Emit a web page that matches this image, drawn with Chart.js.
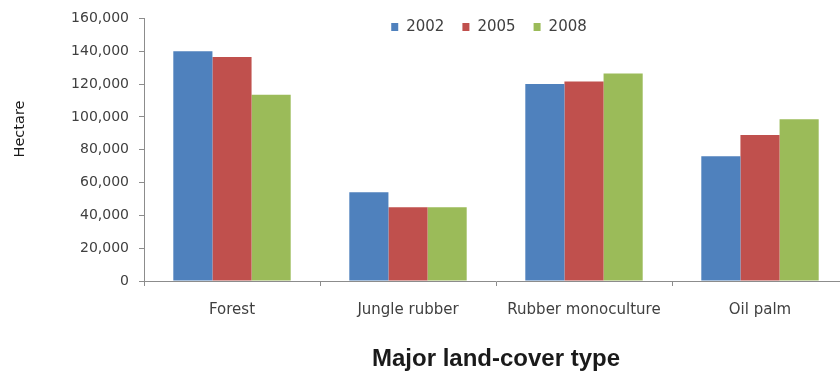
<!DOCTYPE html>
<html>
<head>
<meta charset="utf-8">
<script src="https://cdn.jsdelivr.net/npm/chart.js@4"></script>
<style>
  html, body { margin: 0; padding: 0; background: #fff; overflow: hidden; }
  #wrap { width: 860px; height: 374px; }
</style>
</head>
<body>
<div id="wrap"><canvas id="c" width="860" height="374"></canvas></div>
<script>
// Land-cover area by type (hectares)
const categories = ['Forest', 'Jungle rubber', 'Rubber monoculture', 'Oil palm'];
const years = ['2002', '2005', '2008'];
const area2002 = [140000, 54000, 120000, 76000];
const area2005 = [136500, 45000, 121500, 89000];
const area2008 = [113500, 45000, 126500, 98500];
const seriesColors = ['#4F81BD', '#C0504D', '#9BBB59'];
const yMin = 0, yMax = 160000, yStep = 20000;

// Legend drawn inside the plot, near the top
const insideLegend = {
  id: 'insideLegend',
  afterDraw(chart) {
    const ctx = chart.ctx, ca = chart.chartArea;
    ctx.save();
    ctx.font = '15px "DejaVu Sans"';
    const box = 7, gap = 8, spacing = 18;
    const items = chart.data.datasets.map(d => ({
      label: d.label,
      color: d.backgroundColor,
      w: box + gap + ctx.measureText(d.label).width
    }));
    const total = items.reduce((s, i) => s + i.w, 0) + spacing * (items.length - 1);
    let x = (ca.left + ca.right) / 2 - 7 - total / 2;
    const y = 27;
    ctx.textBaseline = 'middle';
    ctx.textAlign = 'left';
    items.forEach(it => {
      ctx.fillStyle = it.color;
      ctx.fillRect(x, y - 4, box, 8);
      ctx.fillStyle = '#404040';
      ctx.fillText(it.label, x + box + gap, y);
      x += it.w + spacing;
    });
    ctx.restore();
  }
};

// Vertical axis caption
const yCaption = {
  id: 'yCaption',
  afterDraw(chart) {
    const ctx = chart.ctx;
    ctx.save();
    ctx.translate(20, 129);
    ctx.rotate(-Math.PI / 2);
    ctx.font = '14.5px "DejaVu Sans"';
    ctx.fillStyle = '#1a1a1a';
    ctx.textAlign = 'center';
    ctx.textBaseline = 'middle';
    ctx.fillText('Hectare', 0, 0);
    ctx.restore();
  }
};

new Chart(document.getElementById('c').getContext('2d'), {
  type: 'bar',
  data: {
    labels: categories,
    datasets: [
      { label: years[0], data: area2002, backgroundColor: seriesColors[0] },
      { label: years[1], data: area2005, backgroundColor: seriesColors[1] },
      { label: years[2], data: area2008, backgroundColor: seriesColors[2] }
    ]
  },
  options: {
    responsive: false,
    animation: false,
    layout: { padding: { left: 0, right: 12, top: 16, bottom: 0 } },
    datasets: { bar: { categoryPercentage: 0.667, barPercentage: 1.0 } },
    plugins: { legend: { display: false }, tooltip: { enabled: false } },
    scales: {
      x: {
        grid: { drawOnChartArea: false, tickLength: 5, color: '#8c8c8c' },
        border: { color: '#8c8c8c' },
        ticks: { font: { family: 'DejaVu Sans', size: 15 }, color: '#404040', padding: 15 },
        title: {
          display: true,
          text: 'Major land-cover type',
          font: { family: 'Liberation Sans', size: 24, weight: 'bold' },
          color: '#1a1a1a',
          padding: { top: 0, bottom: 0 }
        },
        afterFit(s) { s.height = 93; }
      },
      y: {
        min: yMin,
        max: yMax,
        ticks: {
          stepSize: yStep,
          font: { family: 'DejaVu Sans', size: 14 },
          color: '#404040',
          padding: 10,
          callback: v => v.toLocaleString('en-US')
        },
        grid: { drawOnChartArea: false, tickLength: 5, color: '#8c8c8c' },
        border: { color: '#8c8c8c' },
        afterFit(s) { s.width = 144; }
      }
    }
  },
  plugins: [insideLegend, yCaption]
});
</script>
</body>
</html>
